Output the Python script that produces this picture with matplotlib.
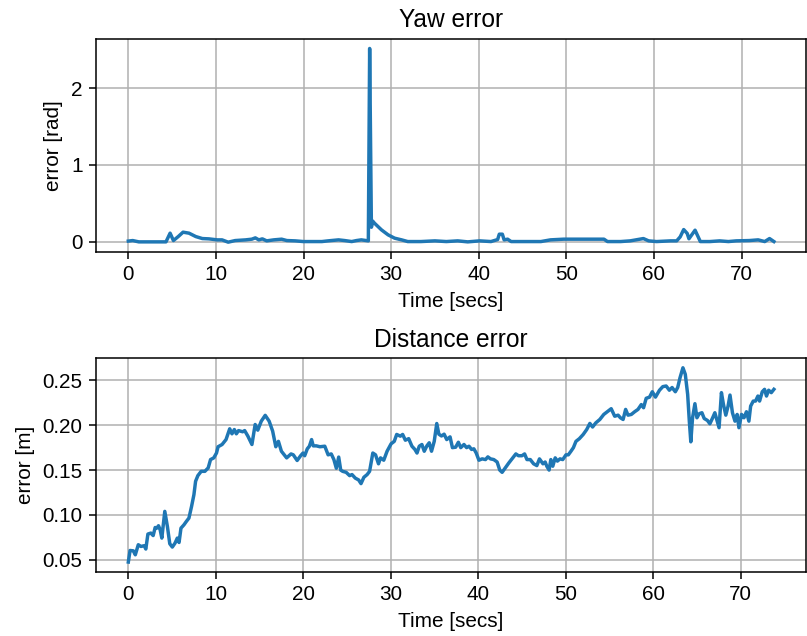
import matplotlib
matplotlib.use("Agg")
import matplotlib.pyplot as plt

plt.rcParams["font.family"] = ["Liberation Sans", "DejaVu Sans"]
plt.rcParams["xtick.labelsize"] = 10.8
plt.rcParams["ytick.labelsize"] = 10.8
plt.rcParams["axes.labelsize"] = 10.8
plt.rcParams["axes.titlesize"] = 12.8

# yaw error [rad] vs time [secs]
yaw_t = [0.0, 0.5, 1.2, 2.4, 4.3, 4.77, 5.15, 5.7, 6.25, 6.93, 7.7, 8.45, 9.2,
         10.15, 10.7, 11.4, 12.2, 13.4, 14.1, 14.5, 14.9, 15.3, 15.8, 16.6,
         17.5, 18.1, 19.05, 20.0, 20.95, 22.1, 22.8, 24.0, 24.7, 25.5, 26.05,
         26.6, 27.4, 27.55, 27.75, 27.9, 28.1, 28.9, 29.66, 30.4, 31.2, 31.9,
         33.4, 35.0, 36.3, 37.6, 38.75, 40.1, 41.4, 42.16, 42.35, 42.7, 42.9,
         43.3, 43.7, 45.6, 47.1, 48.2, 49.7, 51.25, 52.76, 54.3, 54.7, 56.2,
         57.3, 58.8, 59.4, 60.3, 61.9, 62.6, 63.0, 63.4, 63.8, 64.0, 64.7,
         65.3, 66.4, 67.5, 68.5, 69.4, 70.9, 71.9, 72.65, 73.2, 73.7]
yaw_err = [0.01, 0.017, 0.0, 0.0, 0.0, 0.113, 0.017, 0.069, 0.126, 0.113, 0.069,
           0.043, 0.039, 0.026, 0.026, -0.004, 0.017, 0.026, 0.035, 0.052,
           0.026, 0.039, 0.013, 0.026, 0.035, 0.017, 0.013, 0.004, 0.004, 0.004,
           0.013, 0.026, 0.017, 0.004, 0.017, 0.026, 0.013, 2.515, 0.19, 0.27,
           0.243, 0.156, 0.091, 0.048, 0.026, 0.004, 0.004, 0.013, 0.004, 0.013,
           0.0, 0.013, 0.004, 0.03, 0.1, 0.1, 0.026, 0.035, 0.004, 0.004, 0.004,
           0.026, 0.035, 0.035, 0.035, 0.035, 0.004, 0.004, 0.013, 0.043, 0.013,
           0.004, 0.013, 0.013, 0.065, 0.16, 0.11, 0.04, 0.152, 0.004, 0.004,
           0.013, 0.004, 0.013, 0.017, 0.026, 0.004, 0.043, 0.004]

# distance error [m] vs time [secs]
dist_t = [0.0, 0.2, 0.57, 0.8, 1.14, 1.44, 1.82, 2.0, 2.24, 2.58, 2.84, 3.07,
          3.26, 3.45, 3.64, 3.83, 4.17, 4.47, 4.74, 5.03, 5.34, 5.6, 5.8, 6.02,
          6.36, 6.63, 6.93, 7.23, 7.5, 7.69, 7.95, 8.33, 8.75, 9.13, 9.4, 9.77,
          10.08, 10.26, 10.72, 11.17, 11.59, 11.85, 12.12, 12.35, 12.6, 13.07,
          13.3, 13.67, 14.13, 14.5, 14.8, 15.2, 15.65, 16.1, 16.5, 16.86,
          17.16, 17.5, 18.1, 18.6, 18.86, 19.3, 19.7, 19.97, 20.16, 20.46,
          20.7, 20.95, 21.14, 21.5, 21.9, 22.46, 22.84, 23.2, 23.5, 23.78,
          24.05, 24.28, 24.5, 24.9, 25.3, 25.57, 25.95, 26.33, 26.6, 26.93,
          27.3, 27.58, 27.95, 28.26, 28.6, 28.83, 29.2, 29.58, 30.04, 30.4,
          30.68, 31.1, 31.36, 31.67, 32.05, 32.42, 32.76, 33.0, 33.26, 33.56,
          33.83, 34.13, 34.4, 34.66, 34.97, 35.26, 35.5, 35.8, 36.1, 36.4,
          36.78, 37.05, 37.42, 37.73, 38.0, 38.37, 38.67, 38.94, 39.24, 39.5,
          39.77, 40.08, 40.45, 40.83, 41.1, 41.4, 41.78, 42.16, 42.46, 42.73,
          43.1, 43.5, 43.86, 44.3, 44.6, 45.0, 45.3, 45.57, 45.95, 46.33,
          46.7, 47.0, 47.4, 47.65, 47.84, 48.1, 48.3, 48.52, 48.8, 49.05,
          49.35, 49.66, 50.03, 50.3, 50.6, 50.88, 51.17, 51.56, 52.0, 52.4,
          52.76, 53.07, 53.45, 53.9, 54.35, 54.85, 55.2, 55.6, 55.99, 56.25,
          56.56, 56.85, 57.12, 57.5, 57.88, 58.26, 58.64, 58.9, 59.2, 59.58,
          59.9, 60.26, 60.72, 61.1, 61.48, 61.85, 62.16, 62.53, 62.8, 63.07,
          63.4, 63.67, 63.94, 64.13, 64.3, 64.5, 64.77, 65.0, 65.26, 65.57,
          65.83, 66.2, 66.48, 66.8, 67.05, 67.27, 67.53, 67.8, 68.03, 68.3,
          68.56, 68.78, 69.06, 69.35, 69.6, 69.8, 70.1, 70.38, 70.66, 70.94,
          71.14, 71.44, 71.7, 71.97, 72.16, 72.47, 72.73, 72.95, 73.2, 73.5,
          73.8]
dist_err = [0.0475, 0.0604, 0.060, 0.0556, 0.0668, 0.0649, 0.0657, 0.062,
            0.0787, 0.0798, 0.077, 0.086, 0.0853, 0.088, 0.0835, 0.0742, 0.104,
            0.087, 0.0679, 0.0642, 0.0686, 0.0742, 0.0693, 0.0853, 0.089,
            0.0927, 0.0965, 0.1095, 0.1226, 0.1375, 0.1438, 0.1486, 0.1486,
            0.1524, 0.1617, 0.1636, 0.169, 0.176, 0.1785, 0.184, 0.196, 0.1904,
            0.1952, 0.1904, 0.194, 0.1927, 0.194, 0.1878, 0.1785, 0.2008,
            0.1945, 0.2045, 0.211, 0.2045, 0.1934, 0.176, 0.182, 0.171, 0.1636,
            0.168, 0.167, 0.1607, 0.166, 0.169, 0.166, 0.1737, 0.1766, 0.184,
            0.177, 0.177, 0.176, 0.1766, 0.167, 0.168, 0.1617, 0.152, 0.1645,
            0.150, 0.1486, 0.1475, 0.1438, 0.145, 0.141, 0.139, 0.1349, 0.142,
            0.145, 0.1486, 0.169, 0.167, 0.157, 0.1636, 0.161, 0.171, 0.1793,
            0.182, 0.1897, 0.1878, 0.1897, 0.1833, 0.185, 0.1766, 0.173, 0.169,
            0.1766, 0.1785, 0.171, 0.177, 0.1804, 0.171, 0.182, 0.2019, 0.190,
            0.188, 0.190, 0.184, 0.187, 0.175, 0.1755, 0.181, 0.175, 0.1785,
            0.175, 0.1766, 0.173, 0.1737, 0.169, 0.161, 0.1625, 0.1617, 0.1647,
            0.1625, 0.1617, 0.159, 0.150, 0.1475, 0.1525, 0.158, 0.1625, 0.168,
            0.166, 0.166, 0.168, 0.1617, 0.1617, 0.157, 0.155, 0.1625, 0.157,
            0.159, 0.1543, 0.150, 0.1617, 0.1543, 0.1636, 0.160, 0.1625, 0.1617,
            0.167, 0.167, 0.171, 0.175, 0.182, 0.185, 0.1897, 0.1952, 0.202,
            0.198, 0.2027, 0.2064, 0.212, 0.2157, 0.2184, 0.210, 0.2112, 0.2083,
            0.2064, 0.2176, 0.2112, 0.212, 0.215, 0.2176, 0.223, 0.2195, 0.230,
            0.2313, 0.2373, 0.2313, 0.239, 0.243, 0.2437, 0.239, 0.242, 0.2373,
            0.242, 0.253, 0.264, 0.2567, 0.2344, 0.2045, 0.1815, 0.2083, 0.224,
            0.2083, 0.2128, 0.2139, 0.2075, 0.2053, 0.2016, 0.2083, 0.2139,
            0.2064, 0.1972, 0.2363, 0.2232, 0.2112, 0.2213, 0.2336, 0.2139,
            0.2045, 0.212, 0.1972, 0.212, 0.2083, 0.215, 0.2045, 0.2213, 0.2269,
            0.2269, 0.2325, 0.2269, 0.2373, 0.240, 0.2325, 0.239, 0.2363, 0.240]

DPI = 138
fig = plt.figure(figsize=(807 / DPI, 636 / DPI), dpi=DPI)
ax1 = fig.add_axes([0.119, 0.604, 0.88, 0.335])
ax2 = fig.add_axes([0.119, 0.101, 0.88, 0.336])

color = "#1f77b4"

ax1.plot(yaw_t, yaw_err, color=color, lw=1.8)
ax1.set_title("Yaw error")
ax1.set_xlabel("Time [secs]")
ax1.set_ylabel("error [rad]")
ax1.grid(True)

ax2.plot(dist_t, dist_err, color=color, lw=1.8)
ax2.set_title("Distance error")
ax2.set_xlabel("Time [secs]")
ax2.set_ylabel("error [m]")
ax2.grid(True)

fig.savefig("out.png", dpi=DPI)
